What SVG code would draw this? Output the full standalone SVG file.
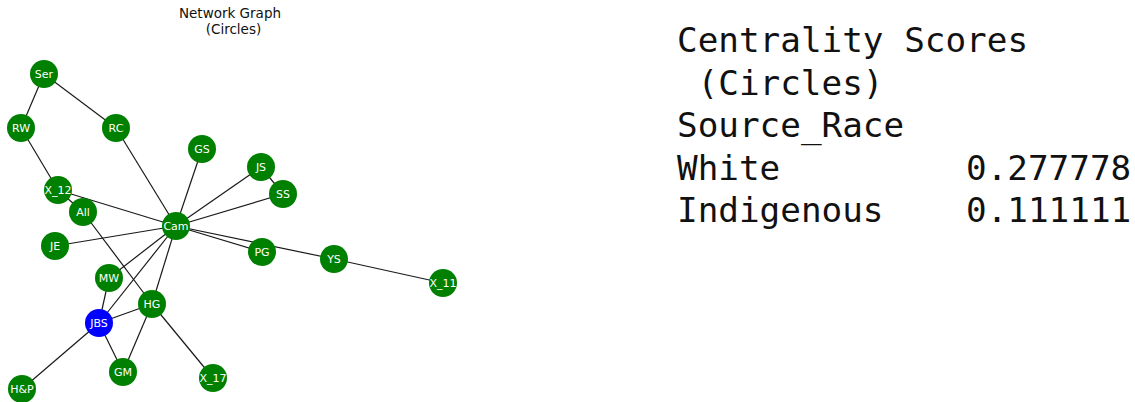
<svg xmlns="http://www.w3.org/2000/svg" width="1135" height="402" viewBox="0 0 1135 402">
  <style>
    .edge { stroke: #1a1a1a; stroke-width: 1.2; fill: none; }
    .node circle { fill: #008000; }
    .node.hl circle { fill: #0000ff; }
    .node text { fill: #ffffff; font-family: "DejaVu Sans", sans-serif; font-size: 11px; text-anchor: middle; dominant-baseline: central; }
    .title { font-family: "DejaVu Sans", sans-serif; font-size: 13.5px; fill: #111; text-anchor: middle; }
    .mono { font-family: "DejaVu Sans Mono", monospace; font-size: 34.3px; fill: #111; }
  </style>
  <rect width="1135" height="402" fill="#ffffff"/>

  <text class="title" x="230" y="18">Network Graph</text>
  <text class="title" x="233.5" y="33.5">(Circles)</text>

  <g id="edges">
    <line class="edge" x1="44" y1="74" x2="21" y2="128"/>
    <line class="edge" x1="44" y1="74" x2="116" y2="128"/>
    <line class="edge" x1="116" y1="128" x2="176" y2="226"/>
    <line class="edge" x1="21" y1="128" x2="58" y2="190"/>
    <line class="edge" x1="58" y1="190" x2="83" y2="212"/>
    <line class="edge" x1="58" y1="190" x2="176" y2="226"/>
    <line class="edge" x1="83" y1="212" x2="152" y2="304"/>
    <line class="edge" x1="202" y1="149" x2="176" y2="226"/>
    <line class="edge" x1="261" y1="167" x2="176" y2="226"/>
    <line class="edge" x1="261" y1="167" x2="283" y2="194"/>
    <line class="edge" x1="283" y1="194" x2="176" y2="226"/>
    <line class="edge" x1="176" y1="226" x2="55" y2="246"/>
    <line class="edge" x1="176" y1="226" x2="262" y2="252"/>
    <line class="edge" x1="176" y1="226" x2="334" y2="259"/>
    <line class="edge" x1="334" y1="259" x2="443" y2="283"/>
    <line class="edge" x1="176" y1="226" x2="109" y2="278"/>
    <line class="edge" x1="176" y1="226" x2="99" y2="323"/>
    <line class="edge" x1="176" y1="226" x2="152" y2="304"/>
    <line class="edge" x1="109" y1="278" x2="99" y2="323"/>
    <line class="edge" x1="99" y1="323" x2="152" y2="304"/>
    <line class="edge" x1="99" y1="323" x2="123" y2="372"/>
    <line class="edge" x1="99" y1="323" x2="22" y2="389"/>
    <line class="edge" x1="152" y1="304" x2="123" y2="372"/>
    <line class="edge" x1="152" y1="304" x2="213" y2="378"/>
  </g>

  <g id="node-Ser" class="node"><circle cx="44" cy="74" r="14"/><text x="44" y="74">Ser</text></g>
  <g id="node-RW" class="node"><circle cx="21" cy="128" r="14"/><text x="21" y="128">RW</text></g>
  <g id="node-RC" class="node"><circle cx="116" cy="128" r="14"/><text x="116" y="128">RC</text></g>
  <g id="node-GS" class="node"><circle cx="202" cy="149" r="14"/><text x="202" y="149">GS</text></g>
  <g id="node-JS" class="node"><circle cx="261" cy="167" r="14"/><text x="261" y="167">JS</text></g>
  <g id="node-SS" class="node"><circle cx="283" cy="194" r="14"/><text x="283" y="194">SS</text></g>
  <g id="node-X_12" class="node"><circle cx="58" cy="190" r="14"/><text x="58" y="190">X_12</text></g>
  <g id="node-All" class="node"><circle cx="83" cy="212" r="14"/><text x="83" y="212">All</text></g>
  <g id="node-Cam" class="node"><circle cx="176" cy="226" r="14"/><text x="176" y="226">Cam</text></g>
  <g id="node-JE" class="node"><circle cx="55" cy="246" r="14"/><text x="55" y="246">JE</text></g>
  <g id="node-PG" class="node"><circle cx="262" cy="252" r="14"/><text x="262" y="252">PG</text></g>
  <g id="node-YS" class="node"><circle cx="334" cy="259" r="14"/><text x="334" y="259">YS</text></g>
  <g id="node-X_11" class="node"><circle cx="443" cy="283" r="14"/><text x="443" y="283">X_11</text></g>
  <g id="node-MW" class="node"><circle cx="109" cy="278" r="14"/><text x="109" y="278">MW</text></g>
  <g id="node-HG" class="node"><circle cx="152" cy="304" r="14"/><text x="152" y="304">HG</text></g>
  <g id="node-JBS" class="node hl"><circle cx="99" cy="323" r="14"/><text x="99" y="323">JBS</text></g>
  <g id="node-GM" class="node"><circle cx="123" cy="372" r="14"/><text x="123" y="372">GM</text></g>
  <g id="node-X_17" class="node"><circle cx="213" cy="378" r="14"/><text x="213" y="378">X_17</text></g>
  <g id="node-HP" class="node"><circle cx="22" cy="389" r="14"/><text x="22" y="389">H&amp;P</text></g>

  <g id="scores">
    <text class="mono" x="677" y="52">Centrality Scores</text>
    <text class="mono" x="697.6" y="94.5">(Circles)</text>
    <text class="mono" x="677" y="137">Source_Race</text>
    <text class="mono" x="677" y="179.5">White</text>
    <text class="mono" x="966" y="179.5">0.277778</text>
    <text class="mono" x="677" y="222">Indigenous</text>
    <text class="mono" x="966" y="222">0.111111</text>
  </g>
</svg>
